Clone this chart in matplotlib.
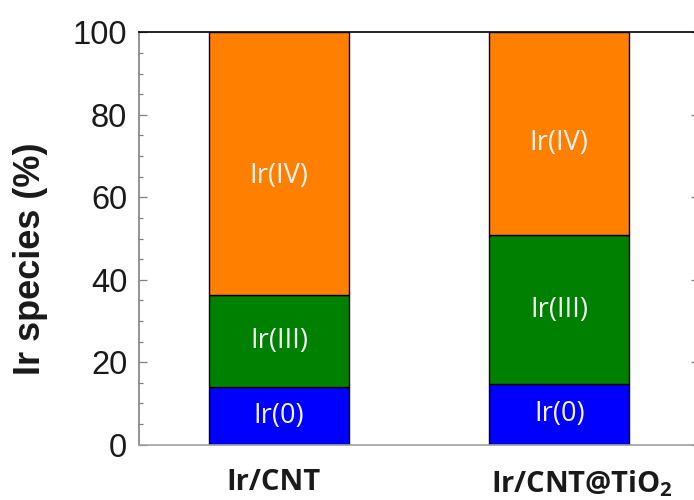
import matplotlib
matplotlib.use("Agg")
import matplotlib.pyplot as plt
import matplotlib.transforms as mtransforms
import numpy as np

# Ir species distribution (%) for each catalyst
samples = ["Ir/CNT", "Ir/CNT@TiO$\\mathregular{_2}$"]
species = ["Ir(0)", "Ir(III)", "Ir(IV)"]
ir0 = [13.9, 14.7]
ir3 = [22.3, 36.1]
ir4 = [63.8, 49.2]
colors = ["#0000FF", "#008000", "#FF8000"]
# where inside each segment its label sits (fraction of segment height)
label_frac = [0.5, 0.5, 0.455]

fig = plt.figure(figsize=(6.94, 5.0), dpi=100)
ax = fig.add_axes([139 / 694, 55.3 / 500, 560.4 / 694, 412.4 / 500])

x = np.arange(len(samples))
bottom = np.zeros(len(samples))
for name, vals, col, frac in zip(species, [ir0, ir3, ir4], colors, label_frac):
    vals = np.asarray(vals)
    ax.bar(x, vals, width=0.5, bottom=bottom, color=col,
           edgecolor="black", linewidth=1.0, zorder=2)
    for xi, b, v in zip(x, bottom, vals):
        ax.text(xi, b + v * frac, name, ha="center", va="center",
                color="#f4f4f4", fontsize=19.5, family="Open Sans", zorder=3)
    bottom = bottom + vals

ax.set_xlim(-0.5, 1.5)
ax.set_ylim(0, 100)
ax.set_yticks(np.arange(0, 101, 20))
ax.set_yticks(np.arange(0, 101, 5), minor=True)
ax.set_xticks(x)
ax.set_xticklabels(samples, fontsize=21, fontweight="bold",
                   family="Open Sans", color="#1a1a1a")
ax.tick_params(axis="x", length=0, pad=17)

# nudge the category labels horizontally
for lbl, dx in zip(ax.get_xticklabels(), [-6, 23]):
    lbl.set_transform(lbl.get_transform() +
                      mtransforms.ScaledTranslation(dx / 100, 0, fig.dpi_scale_trans))

ax.tick_params(axis="y", which="major", direction="in", length=5.5, width=0.9,
               right=True, labelsize=23.5, pad=8.5, labelcolor="#1a1a1a",
               color="#808080")
ax.tick_params(axis="y", which="minor", direction="in", length=3, width=0.9,
               right=False, color="#808080")
for lbl in ax.get_yticklabels():
    lbl.set_family("Liberation Sans")

ax.set_ylabel("Ir species (%)", fontsize=26, fontweight="bold",
              family="Liberation Sans", color="#1a1a1a")
ax.yaxis.set_label_coords((48 - 139) / 560.4, (444.7 - 259) / 412.4)

ax.spines["top"].set_color("black")
ax.spines["right"].set_color("black")
ax.spines["left"].set_color("#808080")
ax.spines["bottom"].set_color("#a0a0a0")
for s in ax.spines.values():
    s.set_linewidth(1.2)

fig.savefig("out.png", dpi=100)
